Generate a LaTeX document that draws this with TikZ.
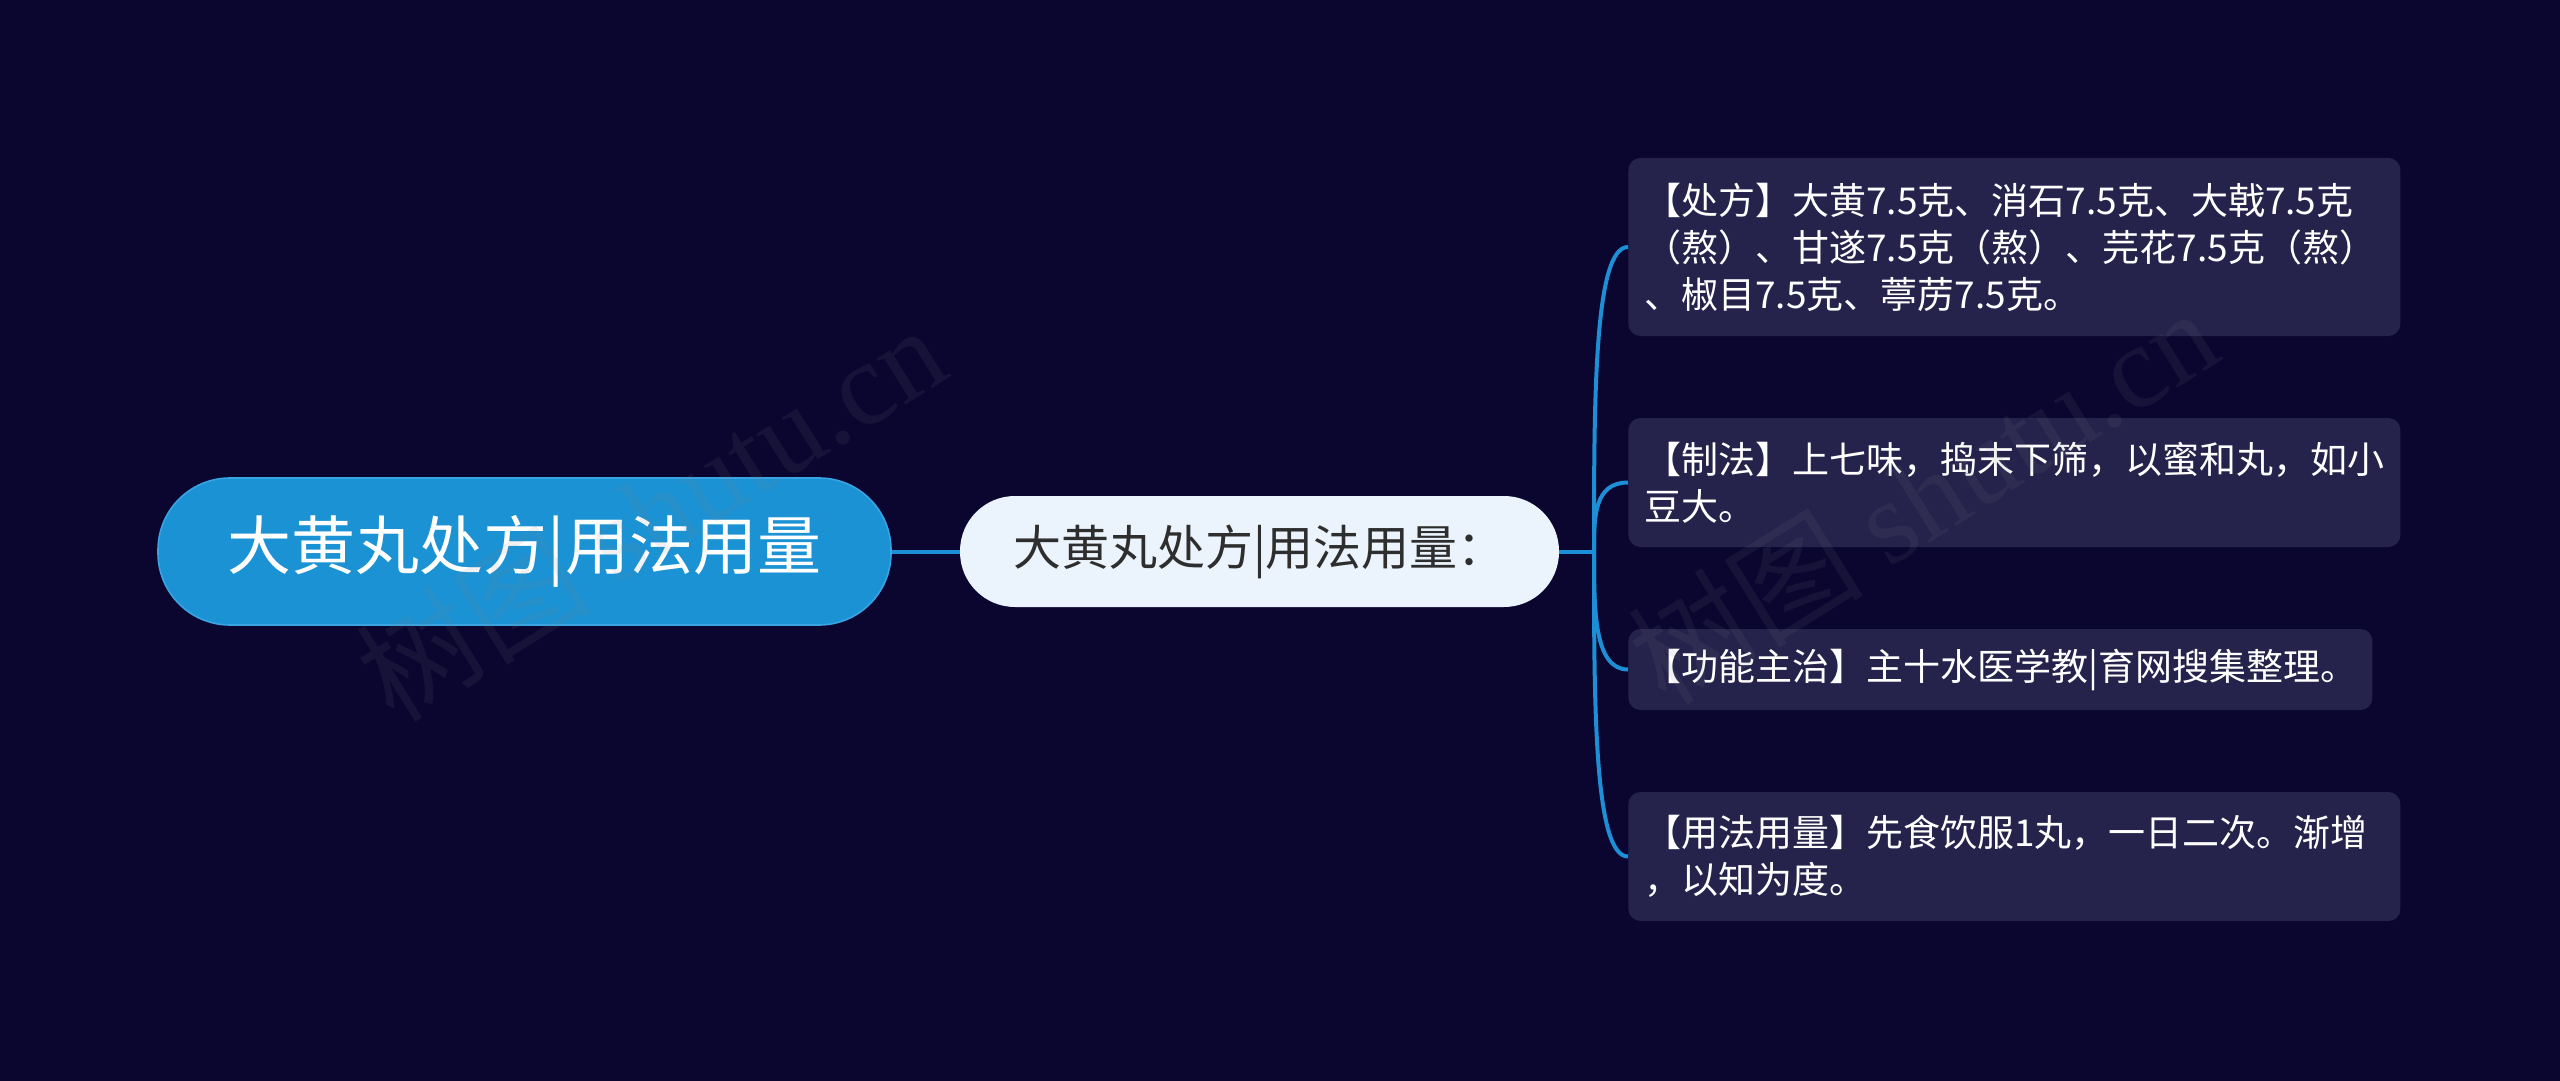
\documentclass[tikz,border=0pt]{standalone}
\usepackage{fontspec}
\setmainfont{Noto Sans CJK SC}
\newfontfamily\wmlatin{Liberation Serif}
\definecolor{bgc}{HTML}{0B0630}
\definecolor{rootc}{HTML}{1A92D4}
\definecolor{rootb}{HTML}{3AA3E2}
\definecolor{midc}{HTML}{EBF3FD}
\definecolor{midtext}{HTML}{2E2E2E}
\definecolor{leafc}{HTML}{25224B}
\definecolor{linec}{HTML}{1D8FD6}
\tikzset{
  rootbox/.style={fill=rootc, draw=rootb, line width=0.8pt, rounded corners=36pt,
    minimum width=366.5pt, minimum height=73.5pt, inner sep=0pt, text=white,
    font=\fontsize{32pt}{38pt}\selectfont},
  midbox/.style={fill=midc, draw=none, rounded corners=27.5pt,
    minimum width=299.5pt, minimum height=55.5pt, inner sep=0pt, text=midtext,
    font=\fontsize{24pt}{29pt}\selectfont},
  leafbox/.style={fill=leafc, draw=none, rounded corners=6pt, anchor=west,
    inner xsep=8pt, inner ysep=0pt, text=white, align=left,
    font=\fontsize{18.5pt}{23.5pt}\selectfont},
  conn/.style={draw=linec, line width=2pt},
  wmark/.style={text=gray, opacity=0.11, rotate=32, inner sep=0pt,
    font=\fontsize{59pt}{62pt}\selectfont}
}
\begin{document}
\begin{tikzpicture}[x=0.5pt,y=-0.5pt]
\fill[bgc] (0,0) rectangle (2560,1081);
\useasboundingbox (0,0) rectangle (2560,1081);

\node[rootbox] (root) at (524.5,551.5) {大黄丸处方|用法用量};
\node[midbox] (mid) at (1259.5,551.5) {大黄丸处方|用法用量：};

\node[leafbox, text width=370pt, minimum height=89pt] (l1) at (1628,247)
  {【处方】大黄7.5克、消石7.5克、大戟7.5克\\（熬）、甘遂7.5克（熬）、芫花7.5克（熬）\\、椒目7.5克、葶苈7.5克。};
\node[leafbox, text width=370pt, minimum height=64.5pt] (l2) at (1628,482.5)
  {【制法】上七味，捣末下筛，以蜜和丸，如小\\豆大。};
\node[leafbox, text width=356pt, minimum height=40.5pt] (l3) at (1628,669.5)
  {【功能主治】主十水医学教|育网搜集整理。};
\node[leafbox, text width=370pt, minimum height=64.5pt] (l4) at (1628,856.5)
  {【用法用量】先食饮服1丸，一日二次。渐增\\，以知为度。};

\coordinate (hub) at (1594,551.5);
\draw[conn] (root.east) -- (mid.west);
\draw[conn] (mid.east) -- (hub);
\draw[conn] (hub) .. controls (1594,400) and (1594,247) .. (l1.west);
\draw[conn] (hub) .. controls (1594,517) and (1594,482.5) .. (l2.west);
\draw[conn] (hub) .. controls (1594,610) and (1594,669.5) .. (l3.west);
\draw[conn] (hub) .. controls (1594,704) and (1594,856.5) .. (l4.west);

\node[wmark] (wm1) at (650,512) {树图 {\wmlatin shutu.cn}};
\node[wmark] (wm2) at (1922,495) {树图 {\wmlatin shutu.cn}};
\end{tikzpicture}
\end{document}
